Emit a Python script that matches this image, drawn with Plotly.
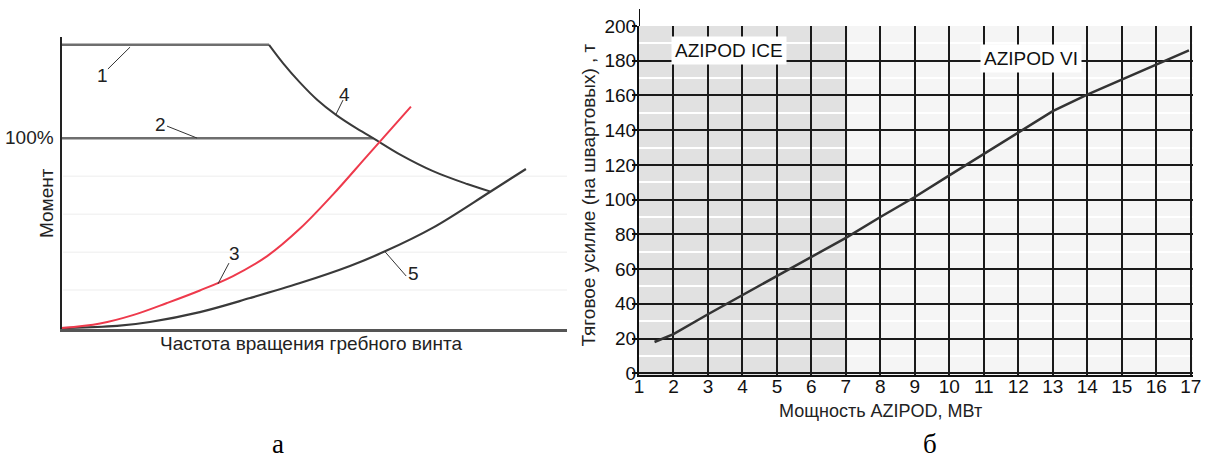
import plotly.graph_objects as go

# ---------------- Panel "а" (read values: x = propeller speed %, y = torque %) ----------------
line1_x = [0, 65.7]
line1_y = [149.2, 149.2]

line2_x = [0, 98.7]
line2_y = [100.0, 100.0]

curve3_x = [0, 12.2, 22.6, 33.4, 43.8, 54.3, 65.1, 75.5, 85.9, 96.7, 110.6]
curve3_y = [0, 2.4, 6.8, 13.2, 19.8, 27.4, 37.9, 52.4, 70.3, 90.6, 116.7]

curve4_x = [65.7, 70.1, 75.5, 80.9, 86.9, 92.9, 98.6, 107.2, 117.6, 128.4, 135.6]
curve4_y = [149.2, 139.6, 129.3, 120.3, 112.3, 105.7, 100.1, 91.4, 82.7, 75.9, 72.0]

curve5_x = [0, 17.6, 28.0, 43.8, 59.7, 75.5, 91.3, 102.4, 117.6, 135.6, 147.0]
curve5_y = [0, 1.1, 3.2, 8.4, 15.8, 23.7, 32.7, 40.4, 52.9, 71.7, 83.8]

faint_grid_a = [20, 40, 60, 80]

curve_labels = ["1", "2", "3", "4", "5"]
label_x = [13.1, 31.2, 54.9, 89.7, 111.3]
label_y = [133.3, 107.5, 39.5, 123.3, 29.0]
leader_from = [(14.7, 136.5), (33.4, 106.4), (53.0, 34.2), (89.1, 120.1), (109.1, 27.4)]
leader_to = [(21.7, 148.0), (42.9, 100.1), (49.5, 23.2), (86.9, 112.7), (102.4, 40.2)]

# ---------------- Panel "б" ----------------
power_mw = [1.45, 2, 3, 4, 5, 6, 7, 8, 9, 10, 11, 12, 13, 14, 15, 16, 16.95]
thrust_t = [18, 22.5, 34, 45, 56, 67, 78, 90, 101.5, 114, 126.5, 139, 151, 160.5, 169, 177.5, 186]
x_ticks_b = list(range(1, 18))
y_ticks_b = list(range(0, 201, 20))
y_minor_b = list(range(10, 200, 20))
ice_range = [1, 7.05]
vi_range = [7.05, 17.07]

FONT = "Liberation Sans, Arial, sans-serif"
SERIF = "Liberation Serif, Times New Roman, serif"

W, H = 1206, 459


def px(xpix):
    return xpix / W


def py(ypix):
    return 1 - ypix / H


fig = go.Figure()

dark = "#3a3a3a"
gray_line = "#6e6e6e"

fig.add_trace(go.Scatter(x=line1_x, y=line1_y, mode="lines", line=dict(color=gray_line, width=2.5), xaxis="x", yaxis="y", hoverinfo="skip"))
fig.add_trace(go.Scatter(x=line2_x, y=line2_y, mode="lines", line=dict(color=gray_line, width=2.5), xaxis="x", yaxis="y", hoverinfo="skip"))
fig.add_trace(go.Scatter(x=curve4_x, y=curve4_y, mode="lines", line=dict(color=dark, width=2, shape="spline", smoothing=1.0), xaxis="x", yaxis="y", hoverinfo="skip"))
fig.add_trace(go.Scatter(x=curve5_x, y=curve5_y, mode="lines", line=dict(color=dark, width=2.2, shape="spline", smoothing=1.0), xaxis="x", yaxis="y", hoverinfo="skip"))
fig.add_trace(go.Scatter(x=curve3_x, y=curve3_y, mode="lines", line=dict(color="#ee3a4c", width=2, shape="spline", smoothing=1.0), xaxis="x", yaxis="y", hoverinfo="skip"))

fig.add_trace(go.Scatter(x=power_mw, y=thrust_t, mode="lines", line=dict(color="#333333", width=2.5), xaxis="x2", yaxis="y2", hoverinfo="skip"))

shapes = []
shapes.append(dict(type="rect", xref="x2", yref="y2", x0=ice_range[0], x1=ice_range[1], y0=-1, y1=200,
                   fillcolor="#e1e1e1", line=dict(width=0), layer="below"))
shapes.append(dict(type="rect", xref="x2", yref="y2", x0=vi_range[0], x1=vi_range[1], y0=-1, y1=200,
                   fillcolor="#f5f5f5", line=dict(width=0), layer="below"))
shapes.append(dict(type="line", xref="x2", yref="paper", x0=1, x1=1, y0=py(26), y1=py(9),
                   line=dict(color="#111", width=2)))
for (x0, y0), (x1, y1) in zip(leader_from, leader_to):
    shapes.append(dict(type="line", xref="x", yref="y", x0=x0, y0=y0, x1=x1, y1=y1,
                       line=dict(color="#333", width=1)))
for gy in faint_grid_a:
    shapes.append(dict(type="line", xref="x", yref="y", x0=0.5, x1=160, y0=gy, y1=gy,
                       line=dict(color="#f3f3f3", width=1.5), layer="below"))


def ann(text, xp, yp, size, family=FONT, color="#222", angle=0, xanchor="center"):
    return dict(text=text, x=px(xp), y=py(yp), xref="paper", yref="paper", xanchor=xanchor, yanchor="middle",
                textangle=angle, showarrow=False, font=dict(family=family, size=size, color=color))


annotations = []
for t, x, y in zip(curve_labels, label_x, label_y):
    annotations.append(dict(text=t, x=x, y=y, xref="x", yref="y", showarrow=False, xanchor="center", yanchor="middle",
                            font=dict(family=FONT, size=19, color="#222")))
annotations += [
    ann("100%", 56, 137.7, 19, xanchor="right"),
    ann("Момент", 46, 203, 19, angle=-90),
    ann("Частота вращения гребного винта", 311, 343, 19),
    ann("а", 278, 444, 27, family=SERIF, color="#000"),
    ann("б", 930, 444, 27, family=SERIF, color="#000"),
    ann("Тяговое усилие (на швартовых) , т", 587.5, 195, 19, angle=-90),
    ann("Мощность AZIPOD, МВт", 880, 411, 18),
    dict(text="AZIPOD ICE", x=3.62, y=185.6, xref="x2", yref="y2", showarrow=False, bgcolor="#ffffff",
         xanchor="center", yanchor="middle", borderpad=3, font=dict(family=FONT, size=19, color="#111")),
    dict(text="AZIPOD VI", x=12.38, y=181.4, xref="x2", yref="y2", showarrow=False, bgcolor="#ffffff",
         xanchor="center", yanchor="middle", borderpad=3, font=dict(family=FONT, size=19, color="#111")),
]

fig.update_layout(
    template="none",
    width=W, height=H,
    autosize=False,
    margin=dict(l=0, r=0, t=0, b=0, pad=0, autoexpand=False),
    paper_bgcolor="#ffffff", plot_bgcolor="rgba(0,0,0,0)",
    showlegend=False,
    shapes=shapes, annotations=annotations,
    xaxis=dict(domain=[px(61.5), px(567)], range=[0, 160], showgrid=False, zeroline=False, automargin=False,
               showticklabels=False, ticks="", showline=True, linecolor="#555", linewidth=3, fixedrange=True),
    yaxis=dict(domain=[py(329), py(36.7)], range=[-0.5, 153.5], showgrid=False, zeroline=False, automargin=False,
               showticklabels=False, ticks="", showline=True, linecolor="#222", linewidth=2, fixedrange=True),
    xaxis2=dict(domain=[px(639), px(1193.1)], range=[1, 17.07], anchor="y2", automargin=False,
                tickmode="array", tickvals=x_ticks_b, showgrid=True, gridcolor="#1a1a1a", gridwidth=2,
                zeroline=False, ticks="", showline=True, linecolor="#111", linewidth=2,
                ticklabelstandoff=-7, ticklabeloverflow="allow",
                tickfont=dict(family=FONT, size=19, color="#111"), fixedrange=True),
    yaxis2=dict(domain=[py(375), py(26)], range=[-1, 200], anchor="x2", automargin=False,
                tickmode="array", tickvals=y_ticks_b, showgrid=True, gridcolor="#1a1a1a", gridwidth=2,
                minor=dict(tickmode="array", tickvals=y_minor_b, showgrid=True, gridcolor="#ffffff", gridwidth=2, ticks=""),
                zeroline=False, ticks="outside", ticklen=5, tickwidth=2, tickcolor="#111",
                ticklabelstandoff=-8, ticklabeloverflow="allow",
                showline=True, linecolor="#111", linewidth=2,
                tickfont=dict(family=FONT, size=19, color="#111"), fixedrange=True),
)

fig.write_html(
    "out.html",
    config={"responsive": False, "displayModeBar": False, "staticPlot": True},
    post_script="document.body.style.margin='0px';document.body.style.padding='0px';document.body.style.overflow='hidden';",
)
